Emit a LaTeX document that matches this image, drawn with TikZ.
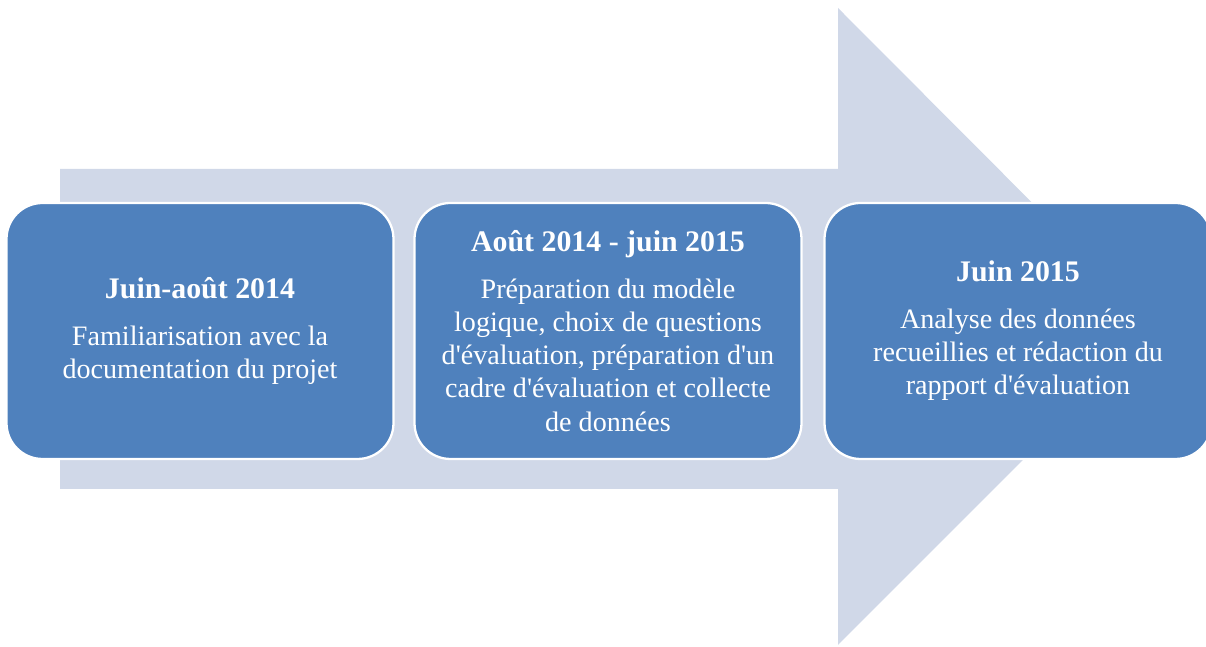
\documentclass[tikz,border=0pt]{standalone}
\usepackage{fontspec}
\setmainfont{Liberation Serif}[Ligatures=TeXOff]
\definecolor{fleche}{HTML}{D0D8E8}
\definecolor{etape}{HTML}{4F81BD}

\begin{document}
\begin{tikzpicture}[font=\fontsize{16}{18.8}\selectfont,
        etapebox/.style={draw=white, line width=1.3pt, fill=etape, text=white,
            rounded corners=0.72cm, minimum width=7.74cm, minimum height=5.12cm,
            align=center}]
                \clip (0,0) rectangle (24.12,12.94);
                \fill[fleche] (1.2,3.16) -- (16.76,3.16) -- (16.76,0.04) -- (23.12,6.4)
                    -- (16.76,12.78) -- (16.76,9.56) -- (1.2,9.56) -- cycle;

                \node[etapebox] (juin14) at (4.0, 6.32)
                    {\textbf{\fontsize{17}{18.8}\selectfont Juin-août 2014}\\[8pt]
                     Familiarisation avec la\\ documentation du projet};
                \node[etapebox] (aout14) at (12.16, 6.32)
                    {\textbf{\fontsize{17}{18.8}\selectfont Août 2014 - juin 2015}\\[8pt]
                     Préparation du modèle\\ logique, choix de questions\\
                     d'évaluation, préparation d'un\\ cadre d'évaluation et collecte\\ de données};
                \node[etapebox] (juin15) at (20.36, 6.32)
                    {\textbf{\fontsize{17}{18.8}\selectfont Juin 2015}\\[8pt]
                     Analyse des données\\ recueillies et rédaction du\\ rapport d'évaluation};
            \end{tikzpicture}
\end{document}
